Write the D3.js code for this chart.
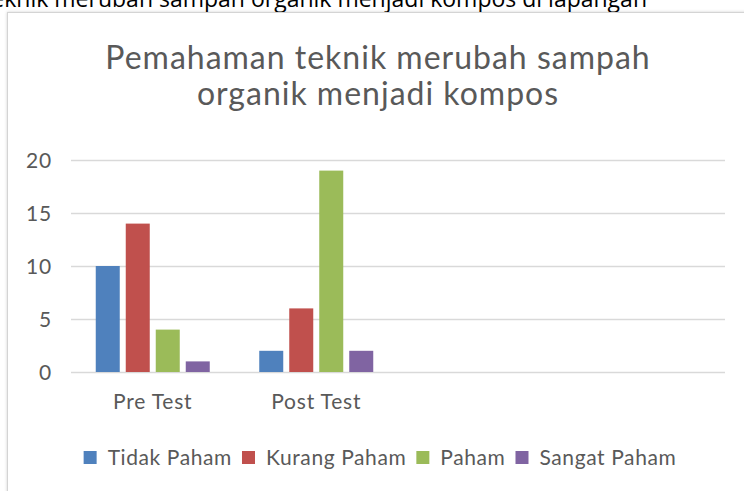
<!DOCTYPE html>
<html>
<head>
<meta charset="utf-8">
<style>
body { margin: 0; background: #fff; }
svg { display: block; }
text { font-family: Lato, "Open Sans", sans-serif; fill: #595959; }
.doc { font-family: "Open Sans", sans-serif; fill: #000; font-size: 23px; }
.title { font-size: 32px; letter-spacing: 1px; }
.tick text { font-size: 21px; letter-spacing: 0.8px; }
.legend text { font-size: 21px; letter-spacing: 0.6px; }
</style>
</head>
<body>
<svg id="svg"></svg>
<script src="https://cdnjs.cloudflare.com/ajax/libs/d3/7.8.5/d3.min.js"></script>
<script>
// data
var categories = ["Pre Test", "Post Test", "", ""]
var series = ["Tidak Paham", "Kurang Paham", "Paham", "Sangat Paham"]
var tidakPaham = [10, 2]
var kurangPaham = [14, 6]
var paham = [4, 19]
var sangatPaham = [1, 2]
var yTicks = [0, 5, 10, 15, 20]
var colors = ["#4f81bd", "#c0504d", "#9bbb59", "#8064a2"]
var titleLines = ["Pemahaman teknik merubah sampah", "organik menjadi kompos"]

var values = [tidakPaham, kurangPaham, paham, sangatPaham]
var W = 744, H = 491
var svg = d3.select("#svg").attr("width", W).attr("height", H)

// text of the document above the chart, cut by the crop
svg.append("text").attr("class", "doc")
    .attr("x", 647).attr("y", 7)
    .attr("text-anchor", "end")
    .text("Gambar 2. Pemahaman teknik merubah sampah organik menjadi kompos di lapangan")

// chart frame
var defs = svg.append("defs")
var f = defs.append("filter").attr("id", "sh").attr("x", -0.05).attr("y", -0.05).attr("width", 1.1).attr("height", 1.1)
f.append("feDropShadow").attr("dx", 0).attr("dy", 0).attr("stdDeviation", 1.5).attr("flood-color", "#000").attr("flood-opacity", 0.18)
svg.append("rect")
    .attr("x", 7.5).attr("y", 12.5).attr("width", 760).attr("height", 500)
    .attr("fill", "#fff").attr("stroke", "#d4d4d4").attr("filter", "url(#sh)")

// title
svg.append("g").selectAll("text").data(titleLines).join("text")
    .attr("class", "title")
    .attr("x", 378)
    .attr("y", (d, i) => 69 + i * 36)
    .attr("text-anchor", "middle")
    .text(d => d)

var plotL = 71, plotR = 725, plotT = 160, plotB = 372

var x = d3.scaleBand().domain(d3.range(categories.length)).range([plotL, plotR])
var xs = d3.scaleBand().domain(d3.range(series.length)).range([0, x.bandwidth()])
    .paddingInner(0.2).paddingOuter(0.825)
var y = d3.scaleLinear().domain([0, 20]).range([plotB, plotT])

// grid
svg.append("g").selectAll("line").data(yTicks).join("line")
    .attr("x1", plotL).attr("x2", plotR)
    .attr("y1", d => Math.round(y(d)) + 0.5).attr("y2", d => Math.round(y(d)) + 0.5)
    .attr("stroke", "#d9d9d9").attr("stroke-width", 1.3)

// y axis labels
var yAxis = svg.append("g")
    .attr("transform", "translate(" + (plotL - 19) + ",0)")
    .call(d3.axisLeft(y).tickValues(yTicks).tickSize(0).tickPadding(0))
yAxis.select(".domain").remove()
yAxis.selectAll("text").attr("fill", "#595959").attr("font-family", null).attr("dy", "0.36em")

// bars
svg.append("g").selectAll("g").data(values).join("g")
    .attr("fill", (d, i) => colors[i])
    .each(function(vals, si) {
        d3.select(this).selectAll("rect").data(vals).join("rect")
            .attr("x", (v, ci) => x(ci) + xs(si))
            .attr("width", xs.bandwidth())
            .attr("y", v => y(v))
            .attr("height", v => y(0) - y(v))
    })

// x axis labels
var xAxis = svg.append("g")
    .attr("transform", "translate(0," + plotB + ")")
    .call(d3.axisBottom(x).tickFormat(i => categories[i]).tickSize(0).tickPadding(0))
xAxis.select(".domain").remove()
xAxis.selectAll("text").attr("fill", "#595959").attr("font-family", null)
    .attr("dy", null).attr("y", 37)

// legend
var legend = svg.append("g").attr("class", "legend")
var items = legend.selectAll("g").data(series).join("g")
items.append("rect").attr("width", 13).attr("height", 13).attr("y", -7)
    .attr("fill", (d, i) => colors[i])
items.append("text").attr("x", 24).attr("y", 7).text(d => d)
var pos = 0
items.each(function() {
    d3.select(this).attr("transform", "translate(" + pos + ",0)")
    pos += 24 + d3.select(this).select("text").node().getComputedTextLength() + 10
})
pos -= 10
legend.attr("transform", "translate(" + (380 - pos / 2) + ",458)")
</script>
</body>
</html>
